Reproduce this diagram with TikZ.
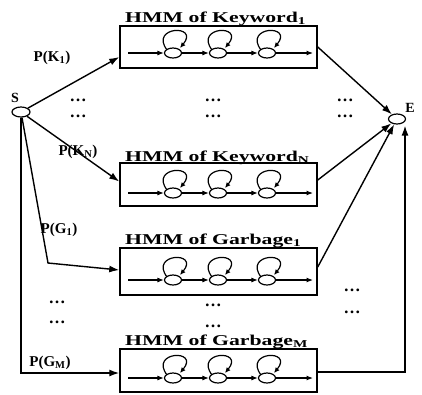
\documentclass[tikz,border=0pt]{standalone}
\usepackage{fontspec}
\setmainfont{Liberation Serif}
\usetikzlibrary{arrows.meta,shapes.geometric}
\tikzset{
  hbox/.style={draw,line width=1.5pt,rectangle,minimum width=197pt,inner sep=0pt},
  state/.style={draw,line width=1.2pt,ellipse,minimum width=17pt,minimum height=10pt,inner sep=0pt},
  endpt/.style={draw,line width=1.2pt,ellipse,minimum width=17pt,minimum height=10pt,inner sep=0pt},
  arr/.style={line width=1.4pt,-{Latex[length=10pt,width=7pt]}},
  inarr/.style={line width=1.1pt,-{Latex[length=6.5pt,width=5pt]}},
  looparr/.style={line width=1.2pt,-{Latex[length=5.5pt,width=5pt]}},
  ttl/.style={font=\fontsize{15}{16}\selectfont\bfseries,inner sep=0pt,anchor=base west},
  lbl/.style={font=\fontsize{15}{16}\selectfont\bfseries,inner sep=0pt},
  dts/.style={font=\fontsize{17}{17}\selectfont\bfseries,inner sep=0pt},
}
\newcommand\hmmunit[6]{%
  \node[hbox,minimum height=#3pt] (#1) at (218.5,#2) {};
  \node[ttl] (#1-t) at (125,{#6}) {\scalebox{1.45}[1]{#5}};
  \coordinate (#1-in) at (128,#4);
  \coordinate (#1-out) at (313,#4);
  \foreach \k/\xx in {1/173,2/218,3/267}{
    \node[state] (#1-\k) at (\xx,#4) {};
    \draw[looparr] ([shift={(-6,-3)}]#1-\k.center) .. controls +(-18,-24) and +(20,-24) .. ([shift={(7,-5)}]#1-\k.center);
  }
  \draw[inarr] (#1-in) -- (#1-1);
  \draw[inarr] (#1-1) -- (#1-2);
  \draw[inarr] (#1-2) -- (#1-3);
  \draw[inarr] (#1-3) -- (#1-out);
}
\begin{document}
\begin{tikzpicture}[x=1pt,y=-1pt]
\useasboundingbox (0,0) rectangle (422,394);
\hmmunit{b1}{47}{42}{53}{HMM of Keyword\textsubscript{1}}{22.5}
\hmmunit{b2}{184.5}{43}{193}{HMM of Keyword\textsubscript{N}}{161}
\hmmunit{b3}{271.5}{47}{280}{HMM of Garbage\textsubscript{1}}{244.5}
\hmmunit{b4}{370.5}{43}{378}{HMM of Garbage\textsubscript{M}}{345.5}

\node[endpt,minimum width=18pt] (S) at (21,112) {};
\node[lbl,font=\fontsize{14}{14}\selectfont\bfseries] (Slab) at (15,98) {S};
\node[endpt] (E) at (397,119) {};
\node[lbl,font=\fontsize{14}{14}\selectfont\bfseries] (Elab) at (410,108) {E};

\coordinate (g1bend) at (48,263);
\draw[arr] (S) -- ([yshift=-10pt]b1.west);
\draw[arr] (S) -- ([yshift=3pt]b2.west);
\draw[arr] (S) -- (g1bend) -- ([yshift=1.5pt]b3.west);
\draw[arr] (S.south) |- ([yshift=-2.5pt]b4.west);

\draw[arr] (b1.east) -- (E);
\draw[arr] ([yshift=4.5pt]b2.east) -- (E);
\draw[arr] ([yshift=4.5pt]b3.east) -- (E);
\draw[arr] ([yshift=-1.5pt]b4.east) -| ([xshift=8pt,yshift=-1pt]E.south);

\node[lbl] (pk1) at (52,58) {P(K\textsubscript{1})};
\node[lbl] (pkn) at (78,152) {P(K\textsubscript{N})};
\node[lbl] (pg1) at (59,230) {P(G\textsubscript{1})};
\node[lbl] (pgm) at (50,363) {P(G\textsubscript{M})};

\node[dts] (d1) at (78,100) {…};
\node[dts] (d2) at (78,116) {…};
\node[dts] (d3) at (213,100) {…};
\node[dts] (d4) at (213,116) {…};
\node[dts] (d5) at (345,100) {…};
\node[dts] (d6) at (345,116) {…};
\node[dts] (d7) at (57,302) {…};
\node[dts] (d8) at (57,322) {…};
\node[dts] (d9) at (213,305) {…};
\node[dts] (d10) at (213,326) {…};
\node[dts] (d11) at (352,290) {…};
\node[dts] (d12) at (352,312) {…};
\end{tikzpicture}
\end{document}
